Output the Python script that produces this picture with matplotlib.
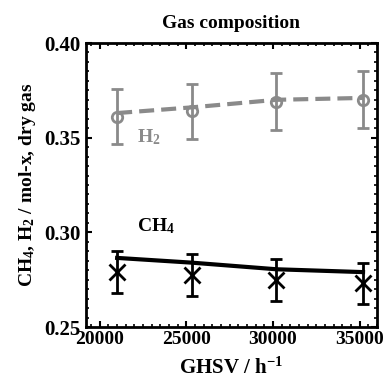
import matplotlib
matplotlib.use("Agg")
import matplotlib.pyplot as plt
from matplotlib.ticker import MultipleLocator, FormatStrFormatter

# measured GHSV values
ghsv = [21000, 25300, 30200, 35200]

# H2 measured + model
h2_meas = [0.361, 0.364, 0.369, 0.370]
h2_err = [0.0145, 0.0145, 0.015, 0.015]
h2_model = [0.363, 0.366, 0.370, 0.371]

# CH4 measured + model
ch4_meas = [0.279, 0.2775, 0.275, 0.273]
ch4_err = [0.011, 0.011, 0.011, 0.011]
ch4_model = [0.2865, 0.284, 0.2805, 0.279]

gray = "#8a8a8a"

plt.rcParams["font.family"] = "Liberation Serif"
plt.rcParams["font.weight"] = "bold"
plt.rcParams["axes.labelweight"] = "bold"
plt.rcParams["mathtext.fontset"] = "custom"
plt.rcParams["mathtext.rm"] = "Liberation Serif:bold"
plt.rcParams["mathtext.it"] = "Liberation Serif:bold"
plt.rcParams["mathtext.bf"] = "Liberation Serif:bold"

fig = plt.figure(figsize=(3.83, 3.84), dpi=100)
ax = fig.add_axes([0.2245, 0.1484, 0.7595, 0.7396])

# H2
ax.plot(ghsv, h2_model, color=gray, lw=3, ls=(0, (3.6, 1.7)))
ax.errorbar(ghsv, h2_meas, yerr=h2_err, fmt="o", mfc="none", mec=gray,
            mew=2, ms=7.5, ecolor=gray, elinewidth=2, capsize=4.5, capthick=2)

# CH4
ax.plot(ghsv, ch4_model, color="black", lw=3)
ax.errorbar(ghsv, ch4_meas, yerr=ch4_err, fmt="x", color="black",
            mew=2, ms=11, ecolor="black", elinewidth=2, capsize=4.5, capthick=2)

ax.text(22150, 0.3477, r"H$_2$", color=gray, fontsize=14, ha="left", va="baseline")
ax.text(22150, 0.3005, r"CH$_4$", color="black", fontsize=14, ha="left", va="baseline")

ax.set_xlim(19200, 36000)
ax.set_ylim(0.25, 0.40)
ax.xaxis.set_major_locator(MultipleLocator(5000))
ax.xaxis.set_minor_locator(MultipleLocator(500))
ax.yaxis.set_major_locator(MultipleLocator(0.05))
ax.yaxis.set_minor_locator(MultipleLocator(0.005))
ax.yaxis.set_major_formatter(FormatStrFormatter("%.2f"))

ax.tick_params(which="both", direction="in", top=True, right=True)
ax.tick_params(axis="y", pad=4, labelsize=15)
ax.tick_params(axis="x", pad=3, labelsize=14)
ax.tick_params(which="major", length=4, width=1.5)
ax.tick_params(which="minor", length=2, width=1.2)
for s in ax.spines.values():
    s.set_linewidth(2)

ax.set_title("Gas composition", fontsize=14, fontweight="bold", pad=11)
ax.set_xlabel(r"GHSV / h$^{-1}$", fontsize=15, labelpad=7)
ax.set_ylabel(r"CH$_4$, H$_2$ / mol-x, dry gas", fontsize=14, labelpad=4)

fig.savefig("out.png", dpi=100)
